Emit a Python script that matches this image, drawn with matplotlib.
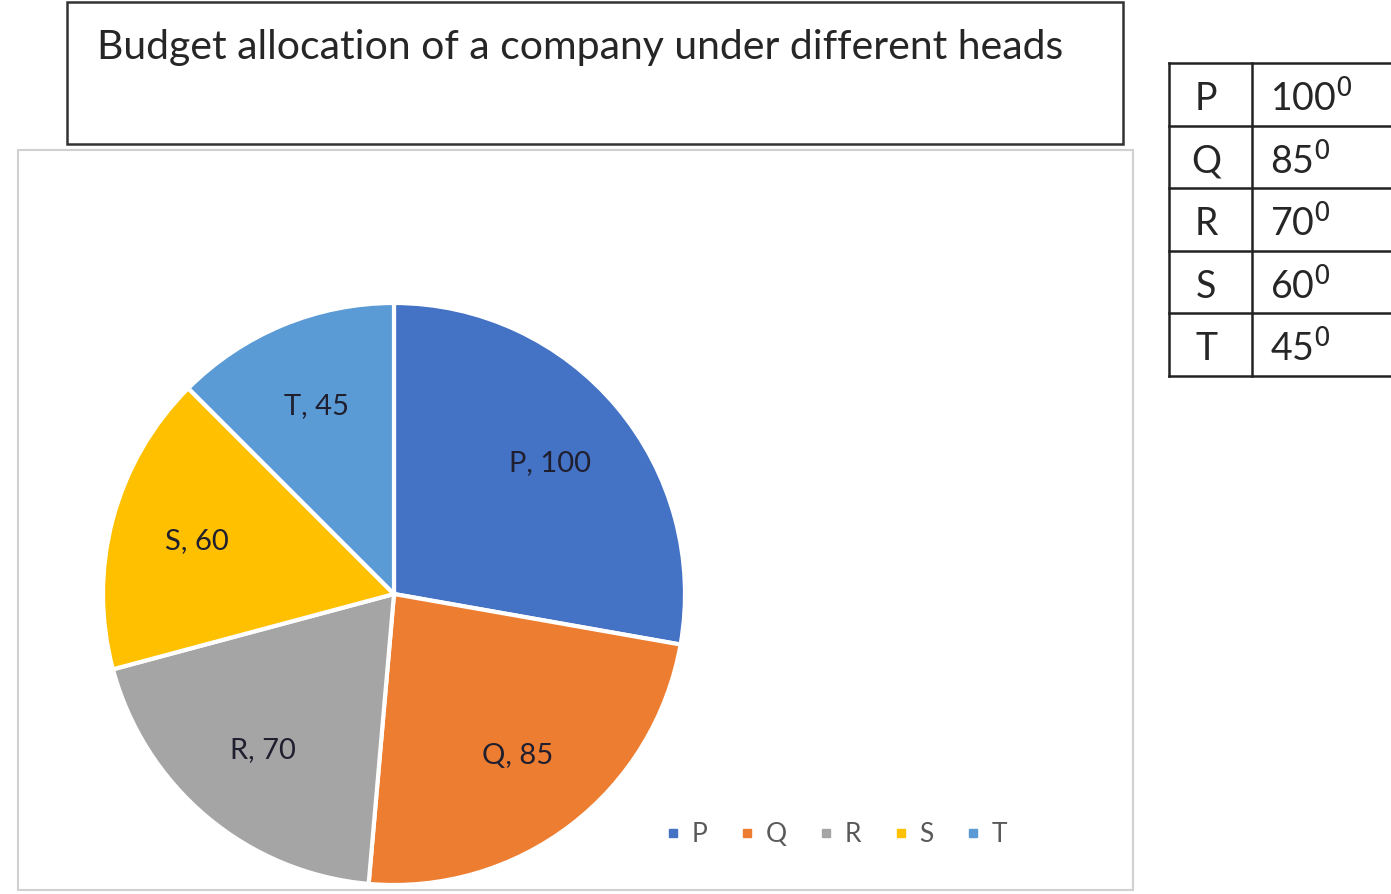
import matplotlib.pyplot as plt
from matplotlib.patches import Rectangle
from matplotlib.lines import Line2D

# ----------------------------------------
# Data
# ----------------------------------------
title = "Budget allocation of a company under different heads"
heads = ["P", "Q", "R", "S", "T"]
degrees = [100, 85, 70, 60, 45]
colors = ["#4472C4", "#ED7D31", "#A5A5A5", "#FFC000", "#5B9BD5"]

plt.rcParams["font.family"] = ["Lato", "DejaVu Sans"]

W, H = 1391, 894
fig = plt.figure(figsize=(W / 100, H / 100), dpi=100)

# background axes in pixel coordinates for boxes and table
bg = fig.add_axes([0, 0, 1, 1])
bg.set_xlim(0, W)
bg.set_ylim(H, 0)
bg.axis("off")

# title box
bg.add_patch(Rectangle((67, 2), 1056, 142, fill=False, ec="#333333", lw=1.8))
bg.text(97, 47, title, fontsize=29.5, va="center", color="#262626")

# chart area border
bg.add_patch(Rectangle((18, 150), 1115, 740, fill=False, ec="#d0d0d0", lw=1.5))

# ----------------------------------------
# Table of angles
# ----------------------------------------
tx0, tx1, tx2 = 1169, 1252, 1400
ty0, row_h = 63, 62.5
n = len(heads)
for i in range(n + 1):
    y = ty0 + i * row_h
    bg.plot([tx0, tx2], [y, y], color="#222222", lw=1.8)
for x in (tx0, tx1):
    bg.plot([x, x], [ty0, ty0 + n * row_h], color="#222222", lw=1.8)
for i, (h, v) in enumerate(zip(heads, degrees)):
    yc = ty0 + (i + 0.5) * row_h + 5
    bg.text(tx0 + 37, yc, h, fontsize=27, ha="center", va="center", color="#262626")
    bg.text(tx1 + 18, yc, f"{v}$^{{0}}$", fontsize=27, ha="left", va="center",
            color="#262626")

# ----------------------------------------
# Pie chart
# ----------------------------------------
ax = fig.add_axes([94 / W, 0, 600 / W, 600 / H])
wedges, texts = ax.pie(
    degrees,
    labels=[f"{h}, {v}" for h, v in zip(heads, degrees)],
    colors=colors,
    startangle=90,
    counterclock=False,
    radius=0.97,
    labeldistance=0.7,
    wedgeprops=dict(edgecolor="white", linewidth=3),
    textprops=dict(fontsize=21, color="#1f1f2f"),
)
for t in texts:
    t.set_ha("center")
    t.set_va("center")
ax.set_xlim(-1, 1)
ax.set_ylim(-1, 1)
ax.set_aspect("equal")

# legend
handles = [Line2D([], [], marker="s", ls="", color=c, markersize=6) for c in colors]
fig.legend(handles, heads, ncol=5, loc="center",
           bbox_to_anchor=(835 / W, 1 - 835 / H), frameon=False, fontsize=19,
           labelcolor="#595959", handletextpad=0.3, columnspacing=1.1,
           handlelength=0.8)

fig.savefig("out.png", dpi=100)
